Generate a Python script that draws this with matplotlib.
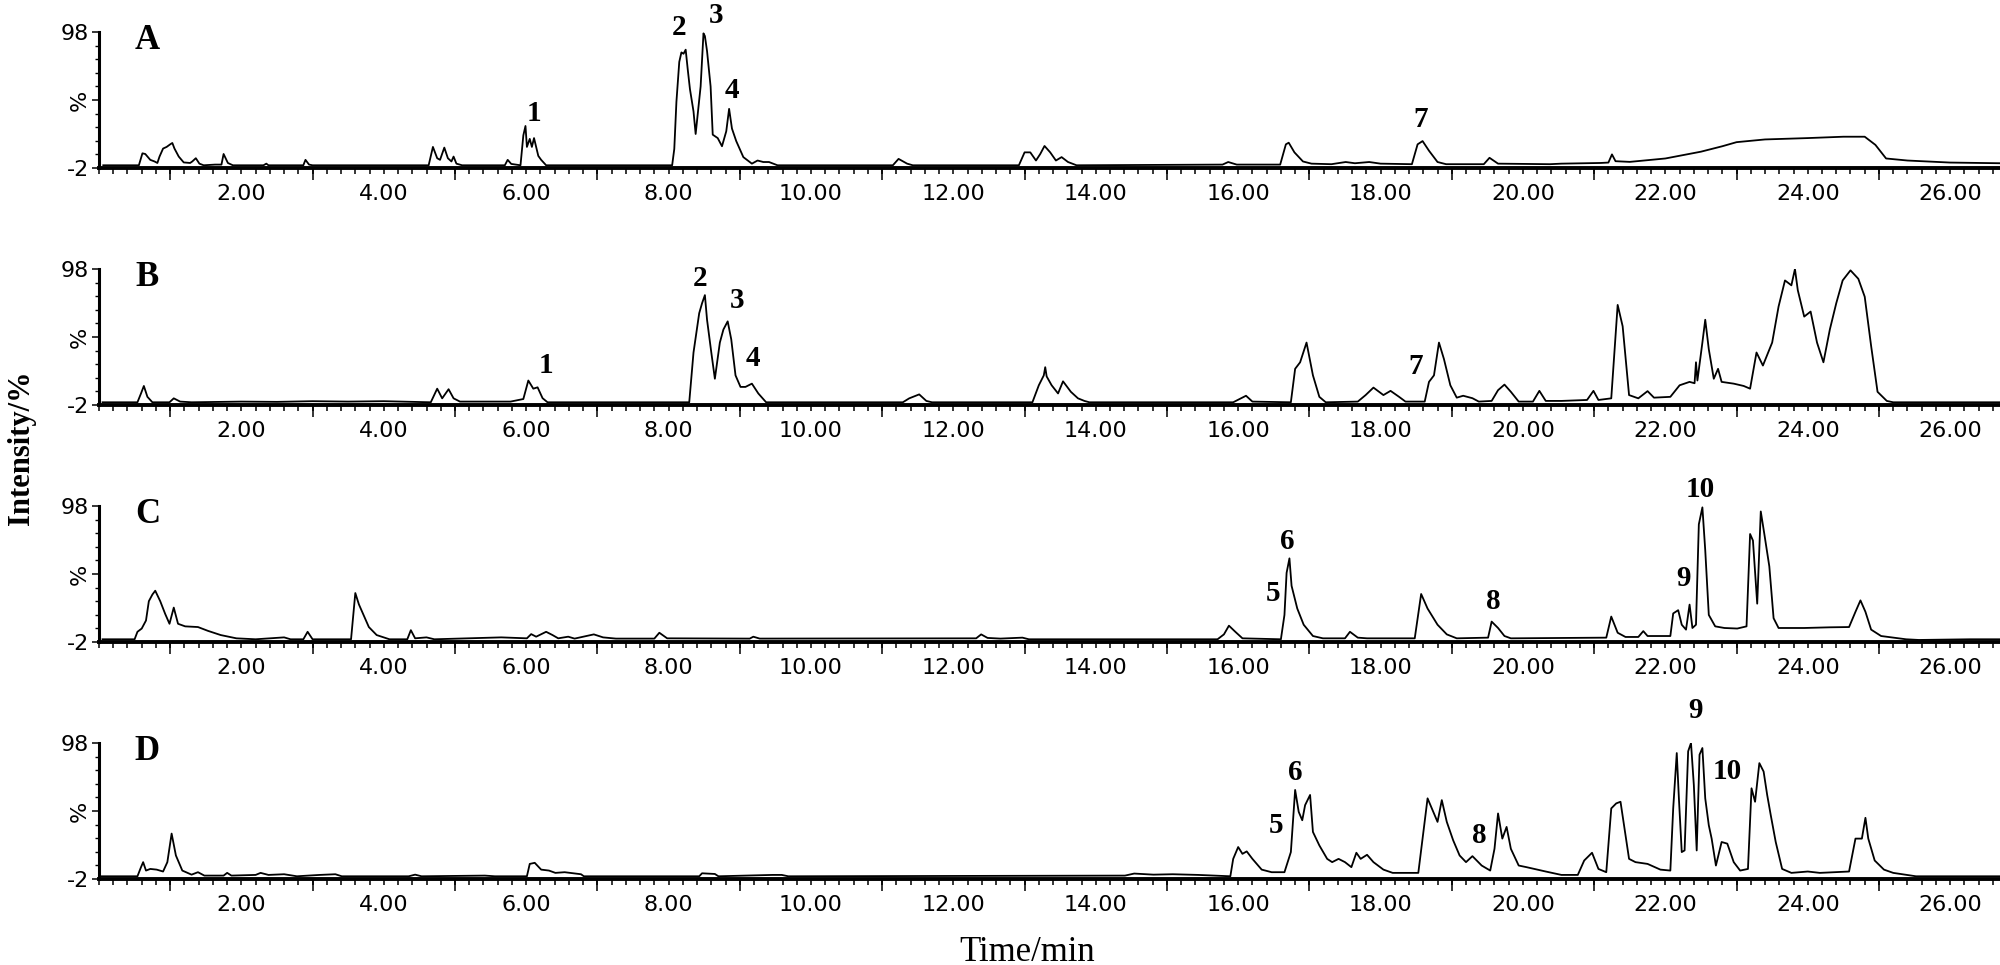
import numpy as np
import matplotlib
matplotlib.use('Agg')
import matplotlib.pyplot as plt
from matplotlib import font_manager

# retention time (min) / relative intensity (%)
tA = [0.06,0.56,0.61,0.65,0.72,0.78,0.82,0.85,0.90,0.95,1.00,1.03,1.06,1.12,1.19,1.28,1.31,1.36,1.41,1.47,1.63,1.72,1.75,1.81,1.88,
      2.31,2.35,2.38,2.87,2.90,2.95,3.0,4.63,4.69,4.75,4.79,4.85,4.90,4.95,4.98,5.02,5.10,5.70,5.74,5.79,5.92,5.96,5.99,6.01,6.05,
      6.08,6.11,6.14,6.17,6.21,6.28,8.05,8.08,8.11,8.15,8.18,8.21,8.24,8.27,8.30,8.35,8.38,8.45,8.49,8.51,8.54,8.59,8.62,8.69,8.75,
      8.81,8.85,8.89,8.95,9.05,9.17,9.25,9.33,9.41,9.53,11.15,11.23,11.35,11.43,12.92,13.0,13.08,13.16,13.22,13.28,13.36,13.44,
      13.52,13.61,13.73,15.78,15.86,15.98,16.59,16.67,16.71,16.79,16.91,17.03,17.31,17.51,17.64,17.84,18.0,18.44,18.52,18.59,18.68,
      18.80,18.92,19.45,19.53,19.65,20.38,20.54,21.09,21.2,21.25,21.3,21.5,22.0,22.5,22.8,23.0,23.4,24.0,24.5,24.8,24.95,25.1,25.4,
      26.0,26.7]
iA = [0,0,8.8,8.3,4,2.8,1.7,6.4,12.3,13.5,15.4,16.4,12.3,6.4,2.1,1.7,2.8,5.2,1.2,0,0.5,0.5,8.3,1.7,0,
      0,1.2,0,0,4,0.5,0,0,13.5,5.2,4,13,5.2,2.8,6.4,1.2,0,0,4,1,0,22,28.9,13.5,19.4,
      13.5,20,13.5,6.9,4,0,0,12,46.7,76,83,82,85,70,56,39.6,23,58,97,95,84,58,22.5,20,14,
      25,41.5,27,17.8,6,1.2,3.5,2.4,2.4,0,0,4.7,1.2,0,0,9.5,9.5,3.5,8.3,14.2,9.5,3.5,
      6,2.4,0,0.5,2.4,0.5,0.5,15.4,16.6,9.5,2.8,1.2,0.8,2.4,1.5,2.4,1.2,0.8,15.4,17.8,10.7,
      2.4,0.8,0.8,5.5,1.2,0.8,1.2,1.7,2,8,3,2.5,5,10,14,17,19,20,21,21,15,5,3.5,
      2,1.5]

tB = [0.05,0.54,0.59,0.63,0.68,0.75,0.99,1.05,1.14,1.30,2.0,2.5,3.0,3.5,4.0,4.66,4.75,4.82,4.91,4.98,5.07,5.78,5.96,6.03,6.10,
      6.16,6.23,6.30,8.29,8.35,8.43,8.47,8.51,8.54,8.60,8.65,8.72,8.77,8.83,8.88,8.94,9.01,9.08,9.17,9.26,9.37,11.29,11.38,11.52,
      11.62,11.70,13.11,13.20,13.27,13.29,13.31,13.38,13.47,13.54,13.65,13.75,13.84,13.91,15.93,16.11,16.2,16.74,16.80,16.87,16.96,
      17.05,17.14,17.23,17.68,17.79,17.9,18.04,18.14,18.26,18.35,18.62,18.68,18.75,18.82,18.89,18.98,19.07,19.16,19.29,19.38,19.56,
      19.65,19.74,19.83,19.94,20.14,20.23,20.32,20.54,20.90,20.99,21.06,21.24,21.33,21.40,21.49,21.62,21.75,21.84,22.07,22.20,22.34,
      22.41,22.43,22.45,22.52,22.56,22.61,22.68,22.74,22.79,22.96,23.10,23.19,23.28,23.37,23.50,23.59,23.68,23.77,23.82,23.86,23.95,
      24.04,24.13,24.22,24.31,24.40,24.49,24.60,24.71,24.80,24.89,24.98,25.11,25.2,26.71]
iB = [0,0,6.5,12,4,0,0,2.9,0.5,0,0.5,0.3,0.8,0.5,0.8,0,10,2.9,9.6,2.9,0.5,0.5,2.4,16,10,
      11,3,0,0,36.6,65.5,72.8,78.8,60.7,36.6,17.3,43.9,53.5,59.5,46.3,19.8,11.3,11.3,13.7,6.5,0,0,2.9,5.8,
      1,0,0,12.5,19.8,25.8,19,12.5,6.5,15.4,7.7,2.9,1,0,0,4.8,0.5,0,24.6,29.4,43.9,
      19.8,4,0,0.5,5.3,10.8,5.3,8.4,4,0.5,0.5,15,19.8,43.9,31.8,12.5,3.4,4.8,3,0.5,1,
      8.9,13,7.7,0.5,0.5,8.4,1,1,1.7,8.4,1.7,2.9,71.6,55.9,5.3,2.9,8.2,3.4,4,12.5,15,
      14,29.4,16,43.9,60.7,39,17.3,24.6,15,13.7,12,10,36.6,27,43.9,70.4,89.6,86,98,82.4,63,
      66.7,43.9,29.4,53.5,72.8,89.6,97,90.8,77.6,41.4,7.7,1,0,0]

tC = [0.05,0.50,0.54,0.60,0.66,0.70,0.75,0.79,0.86,0.93,0.99,1.05,1.11,1.21,1.39,1.53,1.71,1.93,2.20,2.60,2.69,2.87,2.93,3.0,
      3.54,3.60,3.65,3.70,3.79,3.90,4.08,4.33,4.38,4.44,4.60,4.71,5.65,6.01,6.07,6.14,6.28,6.37,6.45,6.59,6.68,6.95,7.08,7.26,
      7.80,7.87,7.98,9.14,9.19,9.28,12.32,12.39,12.48,12.66,12.97,13.06,15.71,15.80,15.87,15.96,16.06,16.60,16.65,16.68,16.72,
      16.75,16.83,16.92,17.05,17.19,17.50,17.57,17.68,17.81,18.48,18.57,18.66,18.80,18.93,19.07,19.51,19.56,19.65,19.74,19.83,
      21.17,21.24,21.33,21.44,21.62,21.69,21.75,22.07,22.11,22.18,22.23,22.29,22.34,22.38,22.43,22.47,22.52,22.56,22.61,22.70,
      22.83,23.01,23.14,23.19,23.23,23.29,23.34,23.39,23.46,23.52,23.59,23.95,24.31,24.58,24.67,24.74,24.81,24.89,25.03,25.38,
      25.56,26.28,26.71]
iC = [0,0,5.5,7.9,13.8,28,32.9,35.7,28,18.6,11.4,23.3,11.4,9.5,9,6.2,3.1,0.7,0,1.4,0,0,5.5,0,
      0,34,25.7,19.8,9,3.1,0,0,6.7,0.7,1.4,0,1.4,0.7,3.8,1.9,5.5,3.1,0.7,1.9,0.5,3.6,1.4,0.5,
      0.5,4.8,0.7,0.5,1.9,0.5,0.7,3.6,1,0.5,1.2,0,0,3.6,10,5.5,0.7,0,17.9,48.8,59.5,
      39.3,22.6,10.7,2.4,0.7,0.7,5.5,1.2,0.7,0.7,33.3,22.6,10.7,3.6,0.7,1.2,13,8.3,2.4,0.7,
      1.2,16.7,4.8,1.7,1.7,6,2.4,2.4,19,21.4,10.7,7.1,25.5,8.3,10.7,84.5,97,65.5,17.9,9.5,
      8.3,7.9,9.5,77.4,72.6,26.2,94,77.4,53.6,15.5,8.3,8.3,8.8,9,20.2,28.6,20.2,7.1,2.4,0,
      -0.5,0,0]

tD = [0.0,0.54,0.59,0.62,0.66,0.72,0.81,0.90,0.96,1.02,1.08,1.17,1.30,1.39,1.48,1.75,1.80,1.86,2.20,2.27,2.38,2.60,2.78,3.1,
      3.32,3.41,4.35,4.44,4.53,5.42,5.56,6.01,6.05,6.12,6.21,6.32,6.41,6.54,6.77,6.81,8.43,8.47,8.65,8.70,9.46,9.59,9.68,14.41,
      14.54,14.81,15.08,15.44,15.89,15.93,16.0,16.06,16.12,16.20,16.33,16.47,16.65,16.74,16.80,16.85,16.90,16.94,17.01,17.05,
      17.14,17.25,17.32,17.41,17.50,17.59,17.66,17.72,17.81,17.90,18.04,18.17,18.53,18.59,18.66,18.73,18.80,18.86,18.93,19.02,
      19.11,19.20,19.29,19.42,19.54,19.60,19.65,19.71,19.77,19.83,19.94,20.05,20.19,20.32,20.54,20.77,20.86,20.97,21.06,21.17,
      21.24,21.31,21.37,21.42,21.49,21.58,21.75,21.93,22.07,22.11,22.16,22.19,22.23,22.27,22.32,22.36,22.40,22.44,22.48,22.52,
      22.56,22.61,22.65,22.71,22.79,22.87,22.96,23.05,23.16,23.21,23.26,23.32,23.38,23.43,23.48,23.55,23.64,23.77,24.0,24.17,
      24.58,24.67,24.76,24.81,24.85,24.94,25.07,25.20,25.52,26.71]
iD = [0,0,6.7,10.4,4.2,5.4,4.9,3.5,10.4,31.4,15.3,4.2,1.2,3,0.5,0.5,2.5,0.5,1,2.5,1,1.5,0,1,
      1.5,0,0,1.2,0,0.5,0,0,9.1,9.9,4.9,4.2,2.5,3,1.5,0,0,2.2,1.7,0,1,1,0,0.5,
      2,1.2,1.5,1,0,12.8,21.5,16.5,18.3,12.8,4.9,3,3,17.8,63.5,47.4,41.2,52.3,59.8,32.6,
      22.7,12.8,10.4,12.8,10.4,6.7,17.3,12.8,15.8,10.4,4.9,2.5,2.5,27.7,57.3,48.6,40,56,40,26.4,
      15.3,10.4,14.8,7.9,4.2,20.2,46.2,27.7,36.3,20.2,7.9,6.7,5,3.5,1,1,11.6,17.3,5.4,3,
      49.9,53.6,54.8,37.5,12.8,10.4,9.1,4.9,4.2,49.9,90.6,57.3,17.8,19,91.9,98,67,19,89.4,94.3,
      57.3,37.5,27.7,7.9,25.2,24,10.4,4.2,5.4,64.7,54.8,83.2,77,59.8,45,25.2,5.4,2.5,3.5,2.5,
      3.5,27.7,27.7,43,27.7,11.6,4.9,2.5,0,0]

panel_names = ['A', 'B', 'C', 'D']
times = [tA, tB, tC, tD]
intensities = [iA, iB, iC, iD]

# peak numbers: (label, time, height)
peaksA = [('1', 6.11, 38), ('2', 8.15, 101), ('3', 8.66, 110), ('4', 8.89, 55), ('7', 18.56, 34)]
peaksB = [('1', 6.28, 27), ('2', 8.44, 91), ('3', 8.96, 75), ('4', 9.19, 32), ('7', 18.50, 26)]
peaksC = [('5', 16.49, 34), ('6', 16.69, 72), ('8', 19.58, 28), ('9', 22.25, 45), ('10', 22.49, 110)]
peaksD = [('5', 16.53, 37), ('6', 16.80, 76), ('8', 19.38, 30), ('9', 22.43, 122), ('10', 22.87, 77)]
peaks = [peaksA, peaksB, peaksC, peaksD]

installed = {f.name for f in font_manager.fontManager.ttflist}
tick_font = 'Liberation Sans Narrow' if 'Liberation Sans Narrow' in installed else 'DejaVu Sans'
serif = 'Liberation Serif'

fig = plt.figure(figsize=(20, 9.65), dpi=100)
W, H = 2000.0, 965.0

for k in range(4):
    top = 32 + 237 * k
    ax = fig.add_axes([99 / W, 1 - (top + 136) / H, 1901 / W, 136 / H])
    ax.plot(times[k], intensities[k], color='black', lw=1.3)
    ax.set_xlim(0, 26.7)
    ax.set_ylim(-2, 98)
    for s in ['top', 'right']:
        ax.spines[s].set_visible(False)
    ax.spines['left'].set_linewidth(2.2)
    ax.spines['bottom'].set_linewidth(2.8)

    even = np.arange(2, 27, 2)
    ax.set_xticks(even, labels=['%.2f' % v for v in even])
    ax.set_xticks(np.arange(0, 26.71, 0.2), minor=True)
    ax.tick_params(axis='x', which='both', direction='out', length=4.5, width=1.1, pad=7,
                   labelsize=16)
    sec = ax.secondary_xaxis('bottom')
    sec.set_xticks(np.arange(1, 27, 2))
    sec.tick_params(length=8.5, width=1.1, labelbottom=False)
    sec.spines['bottom'].set_visible(False)

    ax.set_yticks([-2, 48, 98], labels=['-2', '%', '98'])
    ax.set_yticks(np.arange(8, 90, 10), minor=True)
    ax.tick_params(axis='y', which='major', direction='out', length=5, width=1.1, pad=2,
                   labelsize=16)
    ax.tick_params(axis='y', which='minor', direction='out', length=3, width=1.0)
    ax.get_yticklabels()[1].set_rotation(90)
    ax.get_yticklabels()[1].set_va('center')
    for lab in ax.get_xticklabels() + ax.get_yticklabels():
        lab.set_family(tick_font)

    ax.text(0.68, 92, panel_names[k], ha='center', va='center', fontsize=25,
            fontweight='bold', family=serif)
    for name, t, h in peaks[k]:
        ax.text(t, h, name, ha='center', va='center', fontsize=21, fontweight='bold',
                family=serif, clip_on=False)

fig.text(0.011, 0.536, 'Intensity/%', rotation=90, ha='center', va='center',
         fontsize=22, fontweight='bold', family=serif)
fig.text(0.5135, 0.013, 'Time/min', ha='center', va='center', fontsize=25, family=serif)

fig.savefig('out.png', dpi=100)
